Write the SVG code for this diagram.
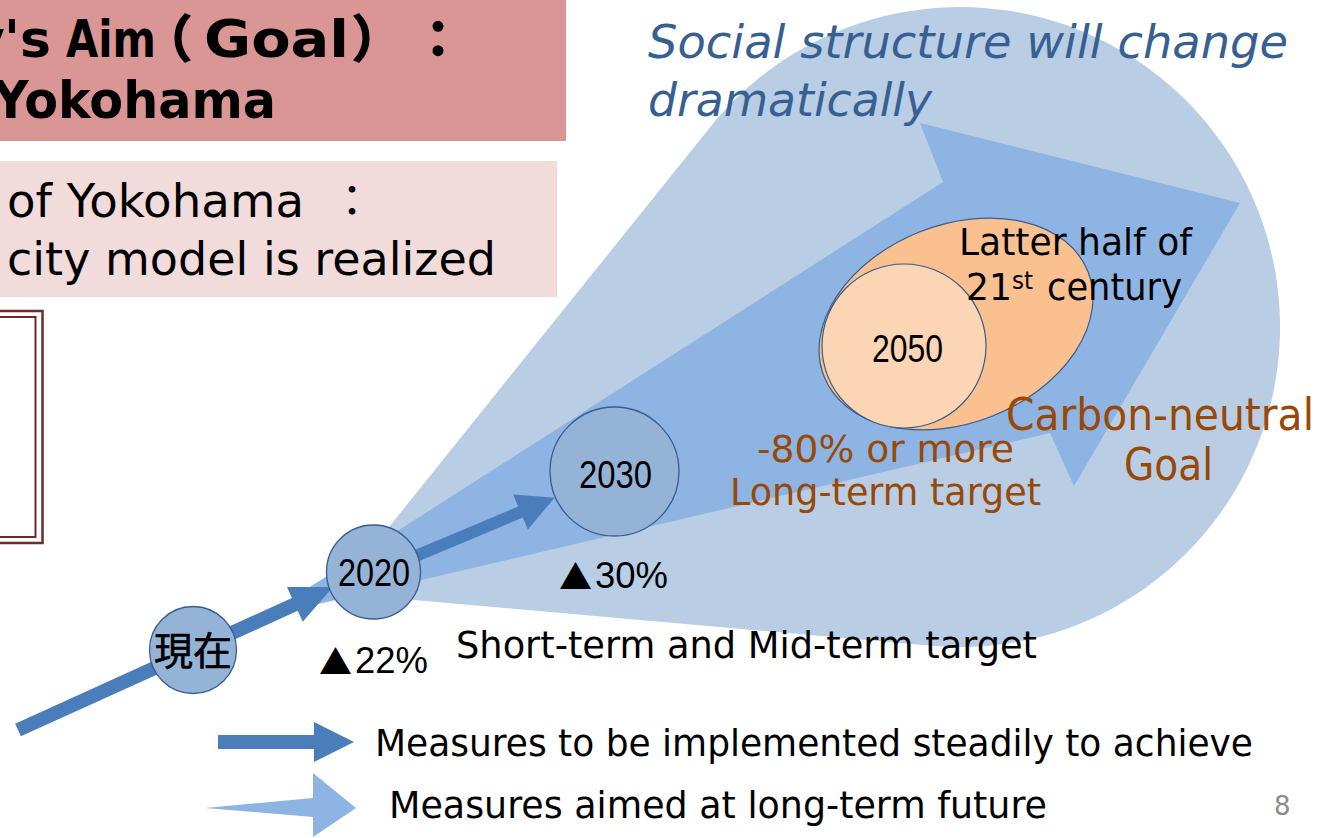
<svg xmlns="http://www.w3.org/2000/svg" width="1319" height="838" viewBox="0 0 1319 838">
<style>
.t{font-family:"DejaVu Sans","Noto Sans CJK JP",sans-serif;}
.n{font-family:"Liberation Sans","Noto Sans CJK JP",sans-serif;}
.j{font-family:"Noto Sans CJK JP",sans-serif;}
.yr{fill:#95B3D7;stroke:#385D8A;stroke-width:1.3;}
.brown{fill:#984807;}
</style>
<rect width="1319" height="838" fill="#ffffff"/>
<g id="title-box">
<rect x="0" y="0" width="566" height="141" fill="#D99694"/>
<text class="t" font-weight="bold" font-size="52" y="57" fill="#000"><tspan x="-29">y</tspan><tspan x="4">'s</tspan></text>
<text class="t" font-weight="bold" font-size="52" x="66" y="57" textLength="90" lengthAdjust="spacingAndGlyphs">Aim</text>
<text class="j" font-weight="bold" font-size="50" x="142" y="57" stroke="#000" stroke-width="1.5">（</text>
<text class="t" font-weight="bold" font-size="52" x="204" y="57" textLength="145" lengthAdjust="spacingAndGlyphs">Goal</text>
<text class="j" font-weight="bold" font-size="50" x="352" y="57" stroke="#000" stroke-width="1.5">）</text>
<text class="j" font-weight="bold" font-size="50" x="413" y="57" stroke="#000" stroke-width="1.5">：</text>
<text class="t" font-weight="bold" font-size="52" x="-7" y="118" textLength="283" lengthAdjust="spacingAndGlyphs">Yokohama</text>
</g>
<g id="sub-box">
<rect x="0" y="161" width="557" height="136" fill="#F2DCDB"/>
<text class="t" font-size="46" x="7" y="217" textLength="297" lengthAdjust="spacingAndGlyphs">of Yokohama</text>
<text class="t" font-size="44" x="330" y="217">：</text>
<text class="t" font-size="46" x="7" y="275" textLength="489" lengthAdjust="spacingAndGlyphs">city model is realized</text>
</g>
<g id="frame" fill="none" stroke="#6E2B29">
<rect x="-10" y="311" width="52.5" height="232" stroke-width="2.5"/>
<rect x="-10" y="317" width="45.5" height="220" stroke-width="2"/>
</g>
<g id="connectors">
<path id="future-fan" d="M336,593 L710.5,126.7 A320,320 0 1 1 931.8,645.8 Z" fill="#B9CDE5"/>
<polygon id="long-term-arrow" points="263,617 943,182 920,123 1240,203 1074,486 1050,433" fill="#8EB4E3"/>
<polygon id="arrow-now-2020" transform="translate(18,730) rotate(-24.4)" points="0,-7 304,-7 304,-19 346,0 304,19 304,7 0,7" fill="#4A7EBB"/>
<polygon id="arrow-2020-2030" transform="translate(373,574) rotate(-22.8)" points="0,-6 160,-6 160,-19 197,0 160,19 160,6 0,6" fill="#4A7EBB"/>
</g>
<text class="t" font-style="italic" font-size="46" x="648" y="58" fill="#376092" textLength="640" lengthAdjust="spacingAndGlyphs">Social structure will change</text>
<text class="t" font-style="italic" font-size="46" x="648" y="116" fill="#376092" textLength="284" lengthAdjust="spacingAndGlyphs">dramatically</text>
<g id="node-genzai">
<circle class="yr" cx="193" cy="650" r="43.5"/>
<text class="j" font-size="39" x="193" y="665" text-anchor="middle" stroke="#000" stroke-width="0.6">現在</text>
</g>
<g id="node-2020">
<circle class="yr" cx="373.5" cy="572" r="47"/>
<text class="n" font-size="39" x="338" y="586" textLength="72" lengthAdjust="spacingAndGlyphs">2020</text>
<text class="j" font-size="33" x="319" y="674">▲</text>
<text class="n" font-size="36" x="355" y="673" textLength="73" lengthAdjust="spacingAndGlyphs">22%</text>
</g>
<g id="node-2030">
<circle class="yr" cx="614.5" cy="471.5" r="64.5"/>
<text class="n" font-size="39" x="579" y="488" textLength="73" lengthAdjust="spacingAndGlyphs">2030</text>
<text class="j" font-size="33" x="559" y="589">▲</text>
<text class="n" font-size="36" x="595" y="588" textLength="73" lengthAdjust="spacingAndGlyphs">30%</text>
</g>
<g id="node-latter-half">
<ellipse cx="956" cy="324" rx="142" ry="99" transform="rotate(-21.7 956 324)" fill="#FAC090" stroke="#385D8A" stroke-width="1.2"/>
</g>
<g id="node-2050">
<circle cx="904" cy="346" r="82" fill="#FCD5B5" stroke="#385D8A" stroke-width="1.2"/>
<text class="n" font-size="39" x="872" y="362" textLength="71" lengthAdjust="spacingAndGlyphs">2050</text>
</g>
<g id="labels">
<text class="t" font-size="38" x="959" y="255" textLength="233" lengthAdjust="spacingAndGlyphs">Latter half of</text>
<text class="t" font-size="38" x="966" y="300"><tspan textLength="46" lengthAdjust="spacingAndGlyphs">21</tspan><tspan font-size="24" x="1012" y="289" textLength="21" lengthAdjust="spacingAndGlyphs">st</tspan><tspan x="1047" y="300" textLength="135" lengthAdjust="spacingAndGlyphs">century</tspan></text>
<text class="t brown" font-size="44" x="1006" y="430" textLength="308" lengthAdjust="spacingAndGlyphs">Carbon-neutral</text>
<text class="t brown" font-size="44" x="1124" y="480" textLength="89" lengthAdjust="spacingAndGlyphs">Goal</text>
<text class="t brown" font-size="38" x="757" y="462" textLength="257" lengthAdjust="spacingAndGlyphs">-80% or more</text>
<text class="t brown" font-size="38" x="730" y="505" textLength="311" lengthAdjust="spacingAndGlyphs">Long-term target</text>
<text class="t" font-size="38" x="456" y="658" textLength="581" lengthAdjust="spacingAndGlyphs">Short-term and Mid-term target</text>
</g>
<g id="legend">
<polygon points="218,735 314,735 314,722 354,742 314,762 314,749 218,749" fill="#4A7EBB"/>
<text class="t" font-size="38" x="375" y="756" textLength="878" lengthAdjust="spacingAndGlyphs">Measures to be implemented steadily to achieve</text>
<polygon points="205,808 313,798 313,773 356,808 313,837 313,817" fill="#8EB4E3"/>
<text class="t" font-size="38" x="389" y="818" textLength="658" lengthAdjust="spacingAndGlyphs">Measures aimed at long-term future</text>
<text class="t" font-size="26" x="1274" y="815" fill="#8C8C8C">8</text>
</g>
</svg>
